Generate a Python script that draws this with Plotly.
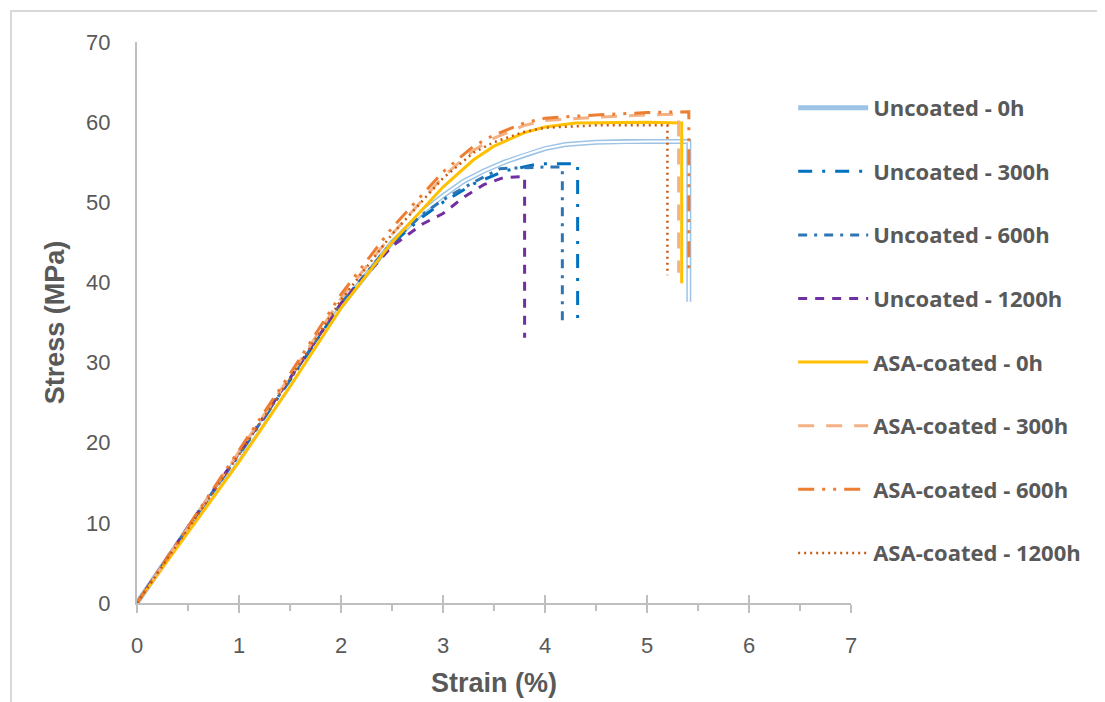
import plotly.graph_objects as go

names = ["Uncoated - 0h", "Uncoated - 300h", "Uncoated - 600h", "Uncoated - 1200h",
         "ASA-coated - 0h", "ASA-coated - 300h", "ASA-coated - 600h", "ASA-coated - 1200h"]

unc0_x = [0, 0.5, 1.0, 1.5, 2.0, 2.5, 2.8, 3.0, 3.2, 3.4, 3.6, 3.8, 4.0, 4.2, 4.5, 4.8, 5.0, 5.2, 5.41, 5.41]
unc0_y = [0, 9.3, 18.3, 27.5, 37.0, 45.0, 48.8, 50.8, 52.6, 53.9, 55.0, 55.9, 56.7, 57.2, 57.5, 57.6, 57.6, 57.6, 57.6, 37.6]

unc300_x = [0, 0.5, 1.0, 1.5, 2.0, 2.5, 2.8, 3.0, 3.3, 3.6, 3.9, 4.0, 4.32, 4.32]
unc300_y = [0, 9.4, 18.5, 27.8, 37.3, 44.8, 48.2, 50.0, 52.3, 53.9, 54.7, 54.8, 54.8, 34.6]

unc600_x = [0, 0.5, 1.0, 1.5, 2.0, 2.5, 2.8, 3.0, 3.3, 3.56, 4.0, 4.17, 4.17]
unc600_y = [0, 9.4, 18.6, 27.9, 37.4, 45.0, 48.5, 50.3, 52.5, 54.2, 54.4, 54.4, 34.6]

unc1200_x = [0, 0.5, 1.0, 1.5, 2.0, 2.5, 2.8, 3.0, 3.2, 3.4, 3.6, 3.8, 3.8]
unc1200_y = [0, 9.5, 18.7, 28.0, 37.4, 44.5, 47.3, 48.6, 50.6, 52.2, 53.1, 53.2, 33.1]

asa0_x = [0, 0.5, 1.0, 1.5, 2.0, 2.5, 3.0, 3.3, 3.5, 3.8, 4.0, 4.3, 5.0, 5.34, 5.34]
asa0_y = [0, 8.8, 17.6, 27.0, 36.8, 45.0, 51.9, 55.3, 57.0, 58.7, 59.4, 59.9, 60.0, 59.9, 39.9]

asa300_x = [0, 0.5, 1.0, 1.5, 2.0, 2.5, 3.0, 3.3, 3.5, 3.8, 4.0, 4.5, 5.0, 5.31, 5.31]
asa300_y = [0, 9.4, 18.8, 28.3, 38.0, 46.0, 53.2, 56.5, 58.0, 59.6, 60.2, 60.6, 60.9, 61.0, 41.2]

asa600_x = [0, 0.5, 1.0, 1.5, 2.0, 2.5, 3.0, 3.3, 3.5, 3.8, 4.0, 4.5, 5.0, 5.41, 5.41]
asa600_y = [0, 9.5, 19.0, 28.6, 38.5, 46.8, 53.8, 57.0, 58.4, 59.9, 60.5, 60.9, 61.2, 61.3, 41.2]

asa1200_x = [0, 0.5, 1.0, 1.5, 2.0, 2.5, 3.0, 3.3, 3.5, 3.8, 4.0, 4.5, 5.2, 5.2]
asa1200_y = [0, 9.3, 18.5, 28.0, 37.8, 46.0, 53.0, 56.2, 57.5, 58.8, 59.3, 59.6, 59.6, 40.9]

x_ticks = [0, 1, 2, 3, 4, 5, 6, 7]
y_ticks = [0, 10, 20, 30, 40, 50, 60, 70]

series = [
    (unc0_x, unc0_y, "#9DC3E6", 5, "solid"),
    (unc300_x, unc300_y, "#0070C0", 3, "14px,10px,3px,10px"),
    (unc600_x, unc600_y, "#2E75B6", 3, "9px,7px,3px,7px"),
    (unc1200_x, unc1200_y, "#7030A0", 3, "9px,8px"),
    (asa0_x, asa0_y, "#FFC000", 3, "solid"),
    (asa300_x, asa300_y, "#F4B183", 3, "16px,12px"),
    (asa600_x, asa600_y, "#ED7D31", 3, "16px,8px,3px,8px,3px,8px"),
    (asa1200_x, asa1200_y, "#C55A11", 2.5, "2px,4px"),
]

fig = go.Figure()
for i, (name, (xs, ys, col, w, dash)) in enumerate(zip(names, series)):
    fig.add_trace(go.Scatter(x=xs, y=ys, mode="lines", name=name, legendgroup=name,
                             line=dict(color=col, width=w, dash=dash)))
    if i == 0:
        fig.add_trace(go.Scatter(x=xs, y=ys, mode="lines", name=name, legendgroup=name,
                                 showlegend=False, hoverinfo="skip",
                                 line=dict(color="white", width=2)))

# overlay axis for inward half of the cross ticks
fig.add_trace(go.Scatter(x=[0], y=[0], xaxis="x2", mode="lines", showlegend=False,
                         hoverinfo="skip", line=dict(color="rgba(0,0,0,0)")))

tick_font = dict(family="Liberation Sans, sans-serif", size=22, color="#595959")
title_font = dict(family="Liberation Sans, sans-serif", size=27, color="#595959")

fig.update_layout(
    width=1105, height=702,
    margin=dict(l=129, r=262, t=34, b=107),
    paper_bgcolor="white", plot_bgcolor="white",
    showlegend=True,
    legend=dict(x=0.919, xanchor="left", y=0.92, yanchor="top",
                font=dict(family="Open Sans, sans-serif", size=22, color="#595959", weight="bold"),
                tracegroupgap=32, itemwidth=70, bgcolor="rgba(0,0,0,0)"),
    xaxis=dict(range=[0, 7], tickvals=x_ticks, showgrid=False, zeroline=False,
               showline=True, linecolor="#BFBFBF", linewidth=2,
               ticks="outside", ticklen=8, tickwidth=2, tickcolor="#BFBFBF",
               minor=dict(dtick=0.5, ticks="outside", ticklen=6, tickwidth=2, tickcolor="#BFBFBF"),
               tickfont=tick_font, ticklabelstandoff=14,
               title=dict(text="<b>Strain (%)</b>", font=title_font, standoff=16)),
    xaxis2=dict(range=[0, 7], overlaying="x", anchor="y", side="bottom", tickvals=x_ticks,
                showticklabels=False, showgrid=False, zeroline=False, showline=False,
                ticks="inside", ticklen=8, tickwidth=2, tickcolor="#BFBFBF"),
    yaxis=dict(range=[0, 70], tickvals=y_ticks, showgrid=False, zeroline=False,
               showline=True, linecolor="#BFBFBF", linewidth=2, ticks="",
               tickfont=tick_font, ticklabelstandoff=20,
               title=dict(text="<b>Stress (MPa)</b>", font=title_font, standoff=14)),
    shapes=[dict(type="rect", xref="paper", yref="paper", x0=-0.1765, x1=1.5, y0=-0.3, y1=1.0553,
                 line=dict(color="#D9D9D9", width=2), fillcolor="rgba(0,0,0,0)", layer="below")],
)

fig.write_html("out.html")
